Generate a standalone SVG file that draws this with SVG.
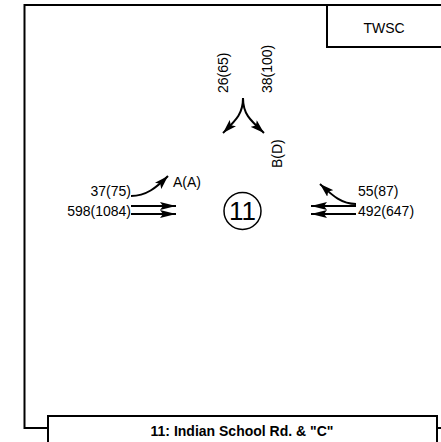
<svg xmlns="http://www.w3.org/2000/svg" width="441" height="442" viewBox="0 0 441 442">
<defs>
<marker id="ah" viewBox="0 0 14 9" refX="14" refY="4.5" markerWidth="14" markerHeight="9" markerUnits="userSpaceOnUse" orient="auto">
<path d="M0,0 L14,4.5 L0,9 L3,4.5 Z" fill="#000"/>
</marker>
<marker id="ahl" viewBox="0 0 16 8" refX="16" refY="4" markerWidth="16" markerHeight="8" markerUnits="userSpaceOnUse" orient="auto">
<path d="M0,0 L16,4 L0,8 L3,4 Z" fill="#000"/>
</marker>
</defs>
<style>
.t{font-family:"Liberation Sans",Arial,sans-serif;font-size:14px;fill:#000}
.b{font-weight:bold}
.big{font-size:26px}
.ln{fill:none;stroke:#000;stroke-width:2}
.c{fill:none;stroke:#000;stroke-width:2;marker-end:url(#ah)}
.s{fill:none;stroke:#000;stroke-width:2;marker-end:url(#ahl)}
</style>
<rect width="441" height="442" fill="#fff"/>
<g id="frame">
<path class="ln" d="M48,428 L24.5,428 L24.5,5 L445,5"/>
<path class="ln" d="M437,428 L445,428"/>
</g>
<g id="twsc">
<path class="ln" d="M445,47 L327,47 L327,5"/>
<text class="t" x="384" y="33" text-anchor="middle">TWSC</text>
</g>
<g id="title">
<rect x="48" y="416" width="389" height="30" fill="#fff" stroke="#000" stroke-width="2"/>
<text class="t b" x="242" y="436" text-anchor="middle">11: Indian School Rd. &amp; "C"</text>
</g>
<g id="node11">
<circle cx="242.5" cy="211" r="18.5" fill="none" stroke="#000" stroke-width="1.5"/>
<text class="t big" x="242.5" y="220" text-anchor="middle">11</text>
</g>
<g id="connectors">
<path class="c" d="M243,98 C243,114 236,120 223,133"/>
<path class="c" d="M243,98 C243,114 250,120 264,133"/>
<path class="c" d="M131,196 C146,196 156,188 168,176"/>
<path class="s" d="M131,206 L176,206"/>
<path class="s" d="M131,214 L176,214"/>
<path class="c" d="M356,204 C341,204 332,195 320,184"/>
<path class="s" d="M356,206 L311,206"/>
<path class="s" d="M356,214 L311,214"/>
</g>
<g id="labels">
<text class="t" transform="translate(228,93) rotate(-90)">26(65)</text>
<text class="t" transform="translate(272,93) rotate(-90)">38(100)</text>
<text class="t" transform="translate(282,168) rotate(-90)">B(D)</text>
<text class="t" x="131" y="196" text-anchor="end">37(75)</text>
<text class="t" x="131" y="216" text-anchor="end">598(1084)</text>
<text class="t" x="173" y="187">A(A)</text>
<text class="t" x="358" y="196">55(87)</text>
<text class="t" x="358" y="216">492(647)</text>
</g>
</svg>
